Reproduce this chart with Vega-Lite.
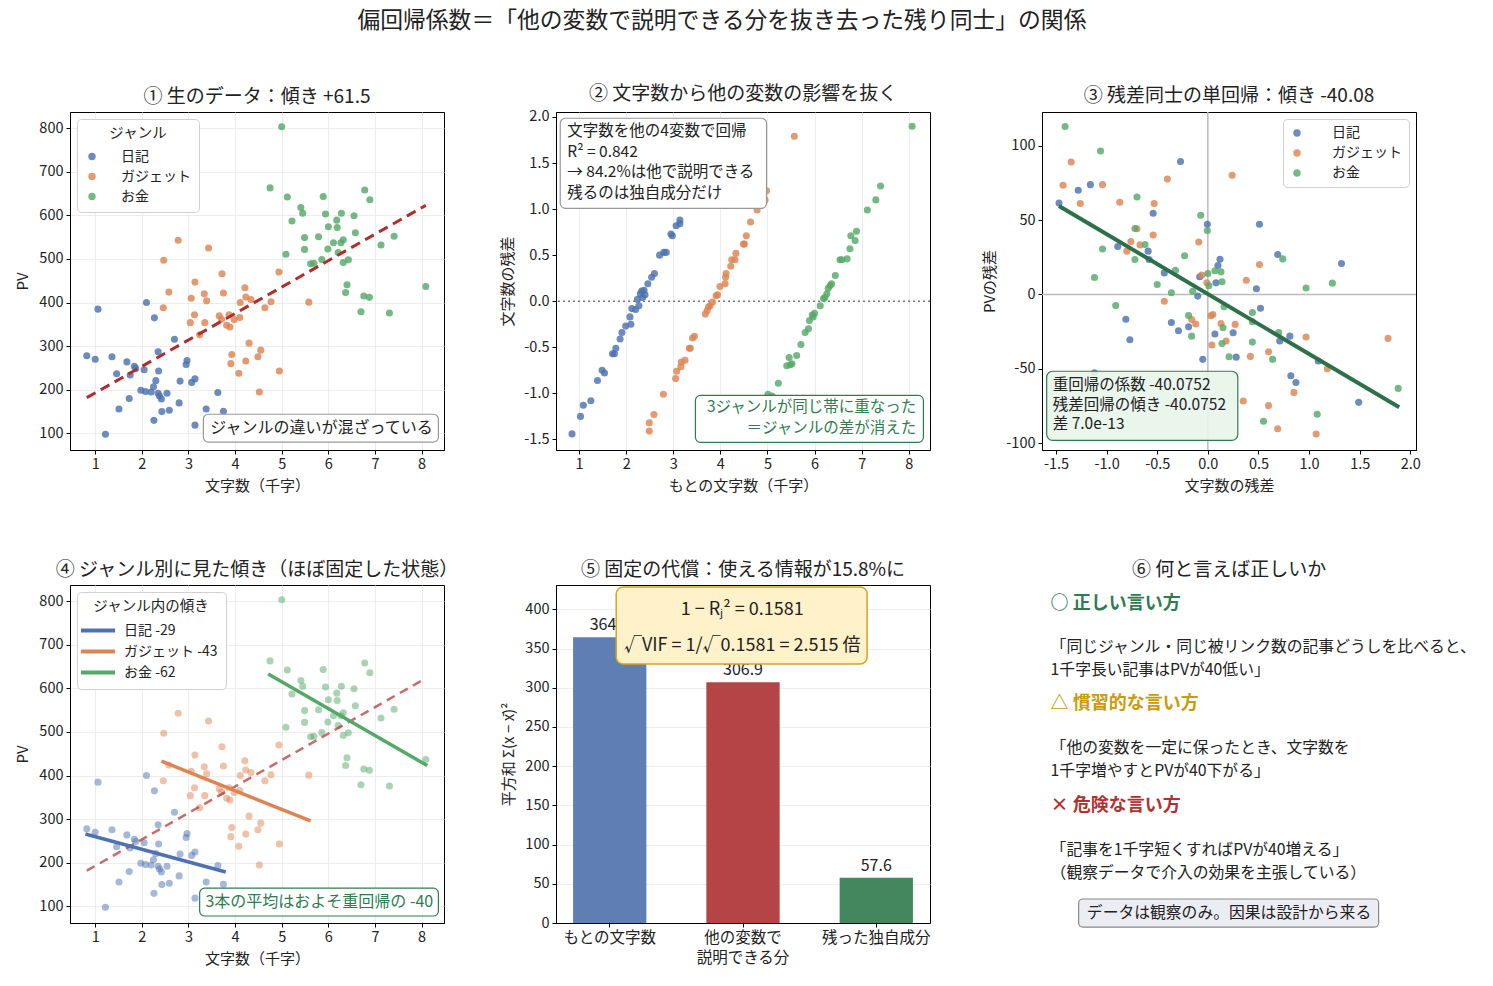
{
  "$schema": "https://vega.github.io/schema/vega-lite/v6.json",
  "padding": {"left": 15, "top": 9, "right": 5, "bottom": 5},
  "title": {"text": "偏回帰係数＝「他の変数で説明できる分を抜き去った残り同士」の関係", "fontSize": 22.8, "offset": 52, "anchor": "middle", "dx": -24},
  "datasets": {
    "raw": [
      {"genre": "日記", "chars": 0.82, "pv": 278}, {"genre": "日記", "chars": 1.0, "pv": 270}, {"genre": "日記", "chars": 1.06, "pv": 385},
      {"genre": "日記", "chars": 1.36, "pv": 276}, {"genre": "日記", "chars": 1.22, "pv": 98}, {"genre": "日記", "chars": 1.46, "pv": 237},
      {"genre": "日記", "chars": 1.51, "pv": 156}, {"genre": "日記", "chars": 1.68, "pv": 264}, {"genre": "日記", "chars": 1.73, "pv": 180},
      {"genre": "日記", "chars": 1.75, "pv": 234}, {"genre": "日記", "chars": 1.84, "pv": 254}, {"genre": "日記", "chars": 1.87, "pv": 249},
      {"genre": "日記", "chars": 2.05, "pv": 246}, {"genre": "日記", "chars": 2.10, "pv": 400}, {"genre": "日記", "chars": 1.98, "pv": 199},
      {"genre": "日記", "chars": 2.08, "pv": 196}, {"genre": "日記", "chars": 2.20, "pv": 195}, {"genre": "日記", "chars": 2.25, "pv": 207},
      {"genre": "日記", "chars": 2.30, "pv": 221}, {"genre": "日記", "chars": 2.27, "pv": 365}, {"genre": "日記", "chars": 2.35, "pv": 287},
      {"genre": "日記", "chars": 2.36, "pv": 243}, {"genre": "日記", "chars": 2.35, "pv": 192}, {"genre": "日記", "chars": 2.38, "pv": 186},
      {"genre": "日記", "chars": 2.42, "pv": 179}, {"genre": "日記", "chars": 2.43, "pv": 150}, {"genre": "日記", "chars": 2.54, "pv": 192},
      {"genre": "日記", "chars": 2.59, "pv": 153}, {"genre": "日記", "chars": 2.26, "pv": 130}, {"genre": "日記", "chars": 2.70, "pv": 316},
      {"genre": "日記", "chars": 2.80, "pv": 170}, {"genre": "日記", "chars": 2.82, "pv": 220}, {"genre": "日記", "chars": 2.97, "pv": 267},
      {"genre": "日記", "chars": 2.95, "pv": 258}, {"genre": "日記", "chars": 3.07, "pv": 217}, {"genre": "日記", "chars": 3.14, "pv": 225},
      {"genre": "日記", "chars": 3.14, "pv": 119}, {"genre": "日記", "chars": 3.38, "pv": 156}, {"genre": "日記", "chars": 3.63, "pv": 194},
      {"genre": "日記", "chars": 3.75, "pv": 151},
      {"genre": "ガジェット", "chars": 2.78, "pv": 543}, {"genre": "ガジェット", "chars": 3.43, "pv": 525}, {"genre": "ガジェット", "chars": 2.47, "pv": 497},
      {"genre": "ガジェット", "chars": 3.14, "pv": 447}, {"genre": "ガジェット", "chars": 3.72, "pv": 466}, {"genre": "ガジェット", "chars": 2.58, "pv": 424},
      {"genre": "ガジェット", "chars": 3.34, "pv": 420}, {"genre": "ガジェット", "chars": 3.39, "pv": 404}, {"genre": "ガジェット", "chars": 3.06, "pv": 410},
      {"genre": "ガジェット", "chars": 3.75, "pv": 422}, {"genre": "ガジェット", "chars": 4.21, "pv": 434}, {"genre": "ガジェット", "chars": 4.23, "pv": 413},
      {"genre": "ガジェット", "chars": 4.34, "pv": 407}, {"genre": "ガジェット", "chars": 4.11, "pv": 400}, {"genre": "ガジェット", "chars": 2.46, "pv": 388},
      {"genre": "ガジェット", "chars": 3.13, "pv": 372}, {"genre": "ガジェット", "chars": 3.04, "pv": 354}, {"genre": "ガジェット", "chars": 3.35, "pv": 354},
      {"genre": "ガジェット", "chars": 3.66, "pv": 370}, {"genre": "ガジェット", "chars": 3.71, "pv": 362}, {"genre": "ガジェット", "chars": 3.87, "pv": 372},
      {"genre": "ガジェット", "chars": 3.82, "pv": 348}, {"genre": "ガジェット", "chars": 3.89, "pv": 344}, {"genre": "ガジェット", "chars": 3.98, "pv": 361},
      {"genre": "ガジェット", "chars": 4.10, "pv": 366}, {"genre": "ガジェット", "chars": 4.64, "pv": 388}, {"genre": "ガジェット", "chars": 4.77, "pv": 402},
      {"genre": "ガジェット", "chars": 4.94, "pv": 470}, {"genre": "ガジェット", "chars": 5.58, "pv": 401}, {"genre": "ガジェット", "chars": 3.24, "pv": 326},
      {"genre": "ガジェット", "chars": 4.30, "pv": 307}, {"genre": "ガジェット", "chars": 4.55, "pv": 291}, {"genre": "ガジェット", "chars": 4.49, "pv": 276},
      {"genre": "ガジェット", "chars": 3.93, "pv": 281}, {"genre": "ガジェット", "chars": 3.91, "pv": 260}, {"genre": "ガジェット", "chars": 4.23, "pv": 266},
      {"genre": "ガジェット", "chars": 4.08, "pv": 238}, {"genre": "ガジェット", "chars": 4.95, "pv": 243}, {"genre": "ガジェット", "chars": 4.52, "pv": 195},
      {"genre": "お金", "chars": 5.0, "pv": 803}, {"genre": "お金", "chars": 4.75, "pv": 663}, {"genre": "お金", "chars": 5.12, "pv": 642},
      {"genre": "お金", "chars": 5.89, "pv": 643}, {"genre": "お金", "chars": 6.78, "pv": 658}, {"genre": "お金", "chars": 6.89, "pv": 636},
      {"genre": "お金", "chars": 5.41, "pv": 618}, {"genre": "お金", "chars": 5.45, "pv": 605}, {"genre": "お金", "chars": 5.22, "pv": 587},
      {"genre": "お金", "chars": 5.94, "pv": 603}, {"genre": "お金", "chars": 6.28, "pv": 605}, {"genre": "お金", "chars": 6.55, "pv": 599},
      {"genre": "お金", "chars": 6.18, "pv": 589}, {"genre": "お金", "chars": 6.00, "pv": 574}, {"genre": "お金", "chars": 6.19, "pv": 572},
      {"genre": "お金", "chars": 5.49, "pv": 549}, {"genre": "お金", "chars": 5.79, "pv": 551}, {"genre": "お金", "chars": 6.58, "pv": 560},
      {"genre": "お金", "chars": 7.41, "pv": 552}, {"genre": "お金", "chars": 6.32, "pv": 544}, {"genre": "お金", "chars": 6.11, "pv": 537},
      {"genre": "お金", "chars": 6.27, "pv": 537}, {"genre": "お金", "chars": 7.13, "pv": 532}, {"genre": "お金", "chars": 5.09, "pv": 511},
      {"genre": "お金", "chars": 5.49, "pv": 522}, {"genre": "お金", "chars": 5.99, "pv": 523}, {"genre": "お金", "chars": 6.21, "pv": 515},
      {"genre": "お金", "chars": 5.86, "pv": 499}, {"genre": "お金", "chars": 5.62, "pv": 489}, {"genre": "お金", "chars": 5.69, "pv": 490},
      {"genre": "お金", "chars": 6.32, "pv": 492}, {"genre": "お金", "chars": 6.43, "pv": 498}, {"genre": "お金", "chars": 6.40, "pv": 441},
      {"genre": "お金", "chars": 6.37, "pv": 423}, {"genre": "お金", "chars": 8.09, "pv": 437}, {"genre": "お金", "chars": 6.76, "pv": 415},
      {"genre": "お金", "chars": 6.88, "pv": 412}, {"genre": "お金", "chars": 6.70, "pv": 379}, {"genre": "お金", "chars": 7.31, "pv": 376}
    ],
    "residx": [
      {"genre": "日記", "chars": 0.85, "rx": -1.44}, {"genre": "日記", "chars": 1.03, "rx": -1.25}, {"genre": "日記", "chars": 1.09, "rx": -1.13},
      {"genre": "日記", "chars": 1.25, "rx": -1.08}, {"genre": "日記", "chars": 1.39, "rx": -0.86}, {"genre": "日記", "chars": 1.49, "rx": -0.75},
      {"genre": "日記", "chars": 1.54, "rx": -0.78}, {"genre": "日記", "chars": 1.71, "rx": -0.57}, {"genre": "日記", "chars": 1.78, "rx": -0.51},
      {"genre": "日記", "chars": 1.75, "rx": -0.57}, {"genre": "日記", "chars": 1.87, "rx": -0.41}, {"genre": "日記", "chars": 1.91, "rx": -0.34},
      {"genre": "日記", "chars": 1.99, "rx": -0.27}, {"genre": "日記", "chars": 2.08, "rx": -0.17}, {"genre": "日記", "chars": 2.10, "rx": -0.25},
      {"genre": "日記", "chars": 2.12, "rx": -0.08}, {"genre": "日記", "chars": 2.20, "rx": -0.09}, {"genre": "日記", "chars": 2.27, "rx": -0.05},
      {"genre": "日記", "chars": 2.30, "rx": 0.08}, {"genre": "日記", "chars": 2.33, "rx": 0.11}, {"genre": "日記", "chars": 2.38, "rx": 0.12},
      {"genre": "日記", "chars": 2.40, "rx": 0.07}, {"genre": "日記", "chars": 2.46, "rx": 0.19}, {"genre": "日記", "chars": 2.54, "rx": 0.26},
      {"genre": "日記", "chars": 2.60, "rx": 0.30}, {"genre": "日記", "chars": 2.71, "rx": 0.50}, {"genre": "日記", "chars": 2.80, "rx": 0.53},
      {"genre": "日記", "chars": 2.85, "rx": 0.53}, {"genre": "日記", "chars": 2.95, "rx": 0.73}, {"genre": "日記", "chars": 2.98, "rx": 0.71},
      {"genre": "日記", "chars": 3.06, "rx": 0.82}, {"genre": "日記", "chars": 3.14, "rx": 0.88}, {"genre": "日記", "chars": 3.14, "rx": 0.84},
      {"genre": "日記", "chars": 2.24, "rx": 0.02}, {"genre": "日記", "chars": 2.35, "rx": 0.04},
      {"genre": "ガジェット", "chars": 2.49, "rx": -1.41}, {"genre": "ガジェット", "chars": 2.49, "rx": -1.32}, {"genre": "ガジェット", "chars": 2.59, "rx": -1.23},
      {"genre": "ガジェット", "chars": 2.79, "rx": -1.01}, {"genre": "ガジェット", "chars": 3.05, "rx": -0.84}, {"genre": "ガジェット", "chars": 3.07, "rx": -0.76},
      {"genre": "ガジェット", "chars": 3.16, "rx": -0.71}, {"genre": "ガジェット", "chars": 3.17, "rx": -0.66}, {"genre": "ガジェット", "chars": 3.25, "rx": -0.64},
      {"genre": "ガジェット", "chars": 3.34, "rx": -0.51}, {"genre": "ガジェット", "chars": 3.36, "rx": -0.51}, {"genre": "ガジェット", "chars": 3.41, "rx": -0.40},
      {"genre": "ガジェット", "chars": 3.45, "rx": -0.38}, {"genre": "ガジェット", "chars": 3.68, "rx": -0.14}, {"genre": "ガジェット", "chars": 3.72, "rx": -0.10},
      {"genre": "ガジェット", "chars": 3.75, "rx": -0.06}, {"genre": "ガジェット", "chars": 3.78, "rx": -0.05}, {"genre": "ガジェット", "chars": 3.83, "rx": -0.01},
      {"genre": "ガジェット", "chars": 3.91, "rx": 0.06}, {"genre": "ガジェット", "chars": 3.94, "rx": 0.07}, {"genre": "ガジェット", "chars": 3.99, "rx": 0.16},
      {"genre": "ガジェット", "chars": 4.10, "rx": 0.19}, {"genre": "ガジェット", "chars": 4.11, "rx": 0.26}, {"genre": "ガジェット", "chars": 4.12, "rx": 0.30},
      {"genre": "ガジェット", "chars": 4.22, "rx": 0.38}, {"genre": "ガジェット", "chars": 4.24, "rx": 0.45}, {"genre": "ガジェット", "chars": 4.31, "rx": 0.45},
      {"genre": "ガジェット", "chars": 4.33, "rx": 0.52}, {"genre": "ガジェット", "chars": 4.49, "rx": 0.62}, {"genre": "ガジェット", "chars": 4.51, "rx": 0.62},
      {"genre": "ガジェット", "chars": 4.55, "rx": 0.71}, {"genre": "ガジェット", "chars": 4.64, "rx": 0.86}, {"genre": "ガジェット", "chars": 4.78, "rx": 0.99},
      {"genre": "ガジェット", "chars": 4.95, "rx": 1.10}, {"genre": "ガジェット", "chars": 4.98, "rx": 1.20}, {"genre": "ガジェット", "chars": 5.57, "rx": 1.79},
      {"genre": "お金", "chars": 5.01, "rx": -1.01}, {"genre": "お金", "chars": 5.10, "rx": -1.03}, {"genre": "お金", "chars": 5.23, "rx": -0.89},
      {"genre": "お金", "chars": 5.41, "rx": -0.70}, {"genre": "お金", "chars": 5.46, "rx": -0.61}, {"genre": "お金", "chars": 5.48, "rx": -0.69},
      {"genre": "お金", "chars": 5.52, "rx": -0.68}, {"genre": "お金", "chars": 5.62, "rx": -0.59}, {"genre": "お金", "chars": 5.71, "rx": -0.47},
      {"genre": "お金", "chars": 5.80, "rx": -0.34}, {"genre": "お金", "chars": 5.87, "rx": -0.30}, {"genre": "お金", "chars": 5.89, "rx": -0.21},
      {"genre": "お金", "chars": 5.95, "rx": -0.15}, {"genre": "お金", "chars": 6.00, "rx": -0.13}, {"genre": "お金", "chars": 5.97, "rx": -0.17},
      {"genre": "お金", "chars": 6.12, "rx": -0.05}, {"genre": "お金", "chars": 6.19, "rx": 0.03}, {"genre": "お金", "chars": 6.22, "rx": 0.04},
      {"genre": "お金", "chars": 6.26, "rx": 0.08}, {"genre": "お金", "chars": 6.29, "rx": 0.14}, {"genre": "お金", "chars": 6.33, "rx": 0.17},
      {"genre": "お金", "chars": 6.36, "rx": 0.19}, {"genre": "お金", "chars": 6.44, "rx": 0.28}, {"genre": "お金", "chars": 6.54, "rx": 0.45},
      {"genre": "お金", "chars": 6.58, "rx": 0.45}, {"genre": "お金", "chars": 6.69, "rx": 0.46}, {"genre": "お金", "chars": 6.75, "rx": 0.57},
      {"genre": "お金", "chars": 6.77, "rx": 0.71}, {"genre": "お金", "chars": 6.86, "rx": 0.66}, {"genre": "お金", "chars": 6.89, "rx": 0.76},
      {"genre": "お金", "chars": 7.12, "rx": 0.99}, {"genre": "お金", "chars": 7.30, "rx": 1.10}, {"genre": "お金", "chars": 7.40, "rx": 1.25},
      {"genre": "お金", "chars": 8.07, "rx": 1.90}
    ],
    "resid": [
      {"genre": "日記", "ex": -1.47, "ey": 61.5}, {"genre": "日記", "ex": -1.28, "ey": 70}, {"genre": "日記", "ex": -1.16, "ey": 73.8},
      {"genre": "日記", "ex": -0.27, "ey": 89.3}, {"genre": "日記", "ex": -0.54, "ey": 54.6}, {"genre": "日記", "ex": -0.89, "ey": 32.2},
      {"genre": "日記", "ex": -0.59, "ey": 29.1}, {"genre": "日記", "ex": -0.58, "ey": 23.5}, {"genre": "日記", "ex": -0.43, "ey": 14.5},
      {"genre": "日記", "ex": -0.005, "ey": 47.2}, {"genre": "日記", "ex": 0.12, "ey": 23.7}, {"genre": "日記", "ex": 0.10, "ey": 19.5},
      {"genre": "日記", "ex": 0.08, "ey": 7.8}, {"genre": "日記", "ex": -0.08, "ey": 11.9}, {"genre": "日記", "ex": -0.10, "ey": -1.1},
      {"genre": "日記", "ex": -0.36, "ey": -18.8}, {"genre": "日記", "ex": -0.29, "ey": -24.4}, {"genre": "日記", "ex": -0.19, "ey": -21.7},
      {"genre": "日記", "ex": -0.81, "ey": -16.6}, {"genre": "日記", "ex": -0.77, "ey": -30.4}, {"genre": "日記", "ex": 0.07, "ey": -26.6},
      {"genre": "日記", "ex": 0.25, "ey": -25.7}, {"genre": "日記", "ex": 0.28, "ey": -42.1}, {"genre": "日記", "ex": -0.05, "ey": -43.6},
      {"genre": "日記", "ex": 0.51, "ey": 47.2}, {"genre": "日記", "ex": 0.48, "ey": 3.8}, {"genre": "日記", "ex": 0.52, "ey": -9.2},
      {"genre": "日記", "ex": 0.69, "ey": 26.8}, {"genre": "日記", "ex": 0.71, "ey": -31.3}, {"genre": "日記", "ex": 0.81, "ey": -28},
      {"genre": "日記", "ex": 0.82, "ey": -54.6}, {"genre": "日記", "ex": 0.87, "ey": -59.1}, {"genre": "日記", "ex": 1.09, "ey": -44.7},
      {"genre": "日記", "ex": 1.32, "ey": 20.8}, {"genre": "日記", "ex": 1.49, "ey": -72.5}, {"genre": "日記", "ex": -1.12, "ey": -52.6},
      {"genre": "ガジェット", "ex": -1.43, "ey": 73.4}, {"genre": "ガジェット", "ex": -1.35, "ey": 89.0}, {"genre": "ガジェット", "ex": -1.26, "ey": 61.1},
      {"genre": "ガジェット", "ex": -1.04, "ey": 73.8}, {"genre": "ガジェット", "ex": -0.87, "ey": 62.0}, {"genre": "ガジェット", "ex": -0.76, "ey": 35.6},
      {"genre": "ガジェット", "ex": -0.67, "ey": 33.3}, {"genre": "ガジェット", "ex": -0.80, "ey": 29.1}, {"genre": "ガジェット", "ex": -0.70, "ey": 44.1},
      {"genre": "ガジェット", "ex": -0.54, "ey": 40.0}, {"genre": "ガジェット", "ex": -0.53, "ey": 61.1}, {"genre": "ガジェット", "ex": -0.40, "ey": 77.6},
      {"genre": "ガジェット", "ex": -0.09, "ey": 35.3}, {"genre": "ガジェット", "ex": -0.06, "ey": 13.0}, {"genre": "ガジェット", "ex": -0.01, "ey": 7.8},
      {"genre": "ガジェット", "ex": -0.43, "ey": -4.5}, {"genre": "ガジェット", "ex": -0.16, "ey": -16.8}, {"genre": "ガジェット", "ex": -0.12, "ey": -19.9},
      {"genre": "ガジェット", "ex": 0.03, "ey": -14.3}, {"genre": "ガジェット", "ex": 0.05, "ey": -13.4}, {"genre": "ガジェット", "ex": 0.13, "ey": -19.5},
      {"genre": "ガジェット", "ex": 0.18, "ey": -31.3}, {"genre": "ガジェット", "ex": 0.04, "ey": -34.0}, {"genre": "ガジェット", "ex": 0.27, "ey": -20.1},
      {"genre": "ガジェット", "ex": 0.24, "ey": 80.1}, {"genre": "ガジェット", "ex": 0.51, "ey": 20.1}, {"genre": "ガジェット", "ex": 0.38, "ey": 9.6},
      {"genre": "ガジェット", "ex": 0.42, "ey": -41.6}, {"genre": "ガジェット", "ex": 0.60, "ey": -38.5}, {"genre": "ガジェット", "ex": 0.60, "ey": -74.7},
      {"genre": "ガジェット", "ex": 0.69, "ey": -90.2}, {"genre": "ガジェット", "ex": 0.85, "ey": -65.8}, {"genre": "ガジェット", "ex": 0.97, "ey": -28.6},
      {"genre": "ガジェット", "ex": 1.07, "ey": -93.7}, {"genre": "ガジェット", "ex": 1.18, "ey": -49.9}, {"genre": "ガジェット", "ex": 1.78, "ey": -29.5},
      {"genre": "ガジェット", "ex": 0.35, "ey": -71.6},
      {"genre": "お金", "ex": -1.41, "ey": 112.8}, {"genre": "お金", "ex": -1.06, "ey": 96.4}, {"genre": "お金", "ex": -0.70, "ey": 65.5},
      {"genre": "お金", "ex": -0.72, "ey": 44.3}, {"genre": "お金", "ex": -1.04, "ey": 30.6}, {"genre": "お金", "ex": -0.62, "ey": 33.6},
      {"genre": "お金", "ex": -0.72, "ey": 23.5}, {"genre": "お金", "ex": -1.12, "ey": 11.4}, {"genre": "お金", "ex": -0.50, "ey": 6.7},
      {"genre": "お金", "ex": -0.36, "ey": 1.1}, {"genre": "お金", "ex": -0.32, "ey": 16.3}, {"genre": "お金", "ex": -0.23, "ey": 26.0},
      {"genre": "お金", "ex": -0.07, "ey": 53.2}, {"genre": "お金", "ex": -0.005, "ey": 43.0}, {"genre": "お金", "ex": 0.00, "ey": 14.1},
      {"genre": "お金", "ex": 0.07, "ey": 15.9}, {"genre": "お金", "ex": 0.13, "ey": 15.2}, {"genre": "お金", "ex": 0.14, "ey": 8.5},
      {"genre": "お金", "ex": 0.01, "ey": 5.8}, {"genre": "お金", "ex": -0.15, "ey": 2.2}, {"genre": "お金", "ex": -0.19, "ey": -14.1},
      {"genre": "お金", "ex": -0.16, "ey": -28}, {"genre": "お金", "ex": 0.16, "ey": -8.3}, {"genre": "お金", "ex": 0.15, "ey": -22.4},
      {"genre": "お金", "ex": 0.14, "ey": -32.9}, {"genre": "お金", "ex": 0.21, "ey": -41.8}, {"genre": "お金", "ex": 0.44, "ey": -12.1},
      {"genre": "お金", "ex": 0.44, "ey": -18.3}, {"genre": "お金", "ex": 0.44, "ey": -32.0}, {"genre": "お金", "ex": 0.64, "ey": -43.6},
      {"genre": "お金", "ex": 0.70, "ey": -25.5}, {"genre": "お金", "ex": 0.74, "ey": 23.9}, {"genre": "お金", "ex": 0.97, "ey": 4.3},
      {"genre": "お金", "ex": 1.23, "ey": 7.6}, {"genre": "お金", "ex": 1.08, "ey": -80.5}, {"genre": "お金", "ex": 0.55, "ey": -85.2},
      {"genre": "お金", "ex": 1.88, "ey": -63.1}, {"genre": "お金", "ex": -0.91, "ey": -7.4}
    ],
    "fit_raw": [{"x": 0.82, "y": 182}, {"x": 8.09, "y": 623}],
    "fit_resid": [{"x": -1.47, "y": 59.5}, {"x": 1.89, "y": -75.8}],
    "within": [
      {"lab": "日記 -29", "x": 0.79, "y": 266}, {"lab": "日記 -29", "x": 3.80, "y": 179},
      {"lab": "ガジェット -43", "x": 2.42, "y": 433}, {"lab": "ガジェット -43", "x": 5.62, "y": 296},
      {"lab": "お金 -62", "x": 4.71, "y": 633}, {"lab": "お金 -62", "x": 8.12, "y": 423}
    ],
    "ss": [
      {"cat": "もとの文字数", "ss": 364.5},
      {"cat": "他の変数で|説明できる分", "ss": 306.9},
      {"cat": "残った独自成分", "ss": 57.6}
    ]
  },
  "columns": 3,
  "spacing": {"row": 135, "column": 112},
  "bounds": "flush",
  "resolve": {
    "scale": {"color": "independent", "x": "independent", "y": "independent"},
    "legend": {"color": "independent"}
  },
  "concat": [
    {
      "width": 374, "height": 338,
      "title": "① 生のデータ：傾き +61.5",
      "layer": [
        {
          "data": {"name": "raw"},
          "mark": {"type": "circle", "size": 50, "opacity": 0.82},
          "encoding": {
            "x": {"field": "chars", "type": "quantitative", "scale": {"domain": [0.46, 8.48], "nice": false, "zero": false}, "axis": {"values": [1, 2, 3, 4, 5, 6, 7, 8], "title": "文字数（千字）"}},
            "y": {"field": "pv", "type": "quantitative", "scale": {"domain": [62, 837], "nice": false, "zero": false}, "axis": {"values": [100, 200, 300, 400, 500, 600, 700, 800], "title": "PV"}},
            "color": {"field": "genre", "type": "nominal", "scale": {"domain": ["日記", "ガジェット", "お金"], "range": ["#4c72b0", "#dd8452", "#55a868"]},
              "legend": {"title": "ジャンル", "orient": "top-left", "titleAnchor": "middle", "titlePadding": 8, "labelOffset": 22, "symbolSize": 55, "padding": 8}}
          }
        },
        {
          "data": {"name": "fit_raw"},
          "mark": {"type": "line", "color": "#b22c2c", "strokeWidth": 3, "strokeDash": [10, 6]},
          "encoding": {"x": {"field": "x", "type": "quantitative"}, "y": {"field": "y", "type": "quantitative"}}
        },
        {
          "data": {"values": [{}]},
          "mark": {"type": "rect", "fill": "white", "stroke": "#999999", "strokeWidth": 1.2, "cornerRadius": 5},
          "encoding": {"x": {"datum": 3.32, "type": "quantitative"}, "x2": {"datum": 8.36}, "y": {"datum": 144, "type": "quantitative"}, "y2": {"datum": 80}}
        },
        {
          "data": {"values": [{}]},
          "mark": {"type": "text", "text": "ジャンルの違いが混ざっている", "align": "left", "baseline": "middle", "fontSize": 16, "color": "#222"},
          "encoding": {"x": {"datum": 3.47, "type": "quantitative"}, "y": {"datum": 112, "type": "quantitative"}}
        }
      ]
    },
    {
      "width": 374, "height": 338,
      "title": "② 文字数から他の変数の影響を抜く",
      "layer": [
        {
          "data": {"values": [{}]},
          "mark": {"type": "rule", "color": "#777777", "strokeWidth": 1.5, "strokeDash": [2, 3]},
          "encoding": {"y": {"datum": 0, "type": "quantitative"}}
        },
        {
          "data": {"name": "residx"},
          "mark": {"type": "circle", "size": 50, "opacity": 0.82},
          "encoding": {
            "x": {"field": "chars", "type": "quantitative", "scale": {"domain": [0.51, 8.45], "nice": false, "zero": false}, "axis": {"values": [1, 2, 3, 4, 5, 6, 7, 8], "title": "もとの文字数（千字）"}},
            "y": {"field": "rx", "type": "quantitative", "scale": {"domain": [-1.615, 2.054], "nice": false, "zero": false}, "axis": {"values": [-1.5, -1, -0.5, 0, 0.5, 1, 1.5, 2], "format": ".1f", "labelExpr": "replace(datum.label, '−', '-')", "title": "文字数の残差"}},
            "color": {"field": "genre", "type": "nominal", "scale": {"domain": ["日記", "ガジェット", "お金"], "range": ["#4c72b0", "#dd8452", "#55a868"]}, "legend": null}
          }
        },
        {
          "data": {"values": [{}]},
          "mark": {"type": "rect", "fill": "white", "stroke": "#999999", "strokeWidth": 1.2, "cornerRadius": 5},
          "encoding": {"x": {"datum": 0.6, "type": "quantitative"}, "x2": {"datum": 4.98}, "y": {"datum": 1.986, "type": "quantitative"}, "y2": {"datum": 1.008}}
        },
        {
          "data": {"values": [{}]},
          "mark": {"type": "text", "text": ["文字数を他の4変数で回帰", "R² = 0.842", "→ 84.2%は他で説明できる", "残るのは独自成分だけ"], "align": "left", "baseline": "middle", "fontSize": 15.5, "lineHeight": 20.5, "color": "#222"},
          "encoding": {"x": {"datum": 0.75, "type": "quantitative"}, "y": {"datum": 1.844, "type": "quantitative"}}
        },
        {
          "data": {"values": [{}]},
          "mark": {"type": "rect", "fill": "white", "stroke": "#2e7d4f", "strokeWidth": 1.2, "cornerRadius": 5},
          "encoding": {"x": {"datum": 3.47, "type": "quantitative"}, "x2": {"datum": 8.31}, "y": {"datum": -1.022, "type": "quantitative"}, "y2": {"datum": -1.532}}
        },
        {
          "data": {"values": [{}]},
          "mark": {"type": "text", "text": ["3ジャンルが同じ帯に重なった", "＝ジャンルの差が消えた"], "align": "right", "baseline": "middle", "fontSize": 15.5, "lineHeight": 21, "color": "#2e7d4f"},
          "encoding": {"x": {"datum": 8.16, "type": "quantitative"}, "y": {"datum": -1.152, "type": "quantitative"}}
        }
      ]
    },
    {
      "width": 374, "height": 338,
      "title": "③ 残差同士の単回帰：傾き -40.08",
      "layer": [
        {
          "data": {"values": [{}]},
          "mark": {"type": "rule", "color": "#bbbbbb", "strokeWidth": 1.5},
          "encoding": {"y": {"datum": 0, "type": "quantitative"}}
        },
        {
          "data": {"values": [{}]},
          "mark": {"type": "rule", "color": "#bbbbbb", "strokeWidth": 1.5},
          "encoding": {"x": {"datum": 0, "type": "quantitative"}}
        },
        {
          "data": {"name": "resid"},
          "mark": {"type": "circle", "size": 50, "opacity": 0.82},
          "encoding": {
            "x": {"field": "ex", "type": "quantitative", "scale": {"domain": [-1.638, 2.056], "nice": false, "zero": false}, "axis": {"values": [-1.5, -1, -0.5, 0, 0.5, 1, 1.5, 2], "format": ".1f", "labelExpr": "replace(datum.label, '−', '-')", "title": "文字数の残差"}},
            "y": {"field": "ey", "type": "quantitative", "scale": {"domain": [-104.5, 122.6], "nice": false, "zero": false}, "axis": {"values": [-100, -50, 0, 50, 100], "labelExpr": "replace(datum.label, '−', '-')", "title": "PVの残差"}},
            "color": {"field": "genre", "type": "nominal", "scale": {"domain": ["日記", "ガジェット", "お金"], "range": ["#4c72b0", "#dd8452", "#55a868"]},
              "legend": {"title": null, "orient": "top-right", "labelOffset": 28, "symbolSize": 55, "padding": 7}}
          }
        },
        {
          "data": {"name": "fit_resid"},
          "mark": {"type": "line", "color": "#2d7049", "strokeWidth": 4},
          "encoding": {"x": {"field": "x", "type": "quantitative"}, "y": {"field": "y", "type": "quantitative"}}
        },
        {
          "data": {"values": [{}]},
          "mark": {"type": "rect", "fill": "#e8f4ea", "fillOpacity": 0.92, "stroke": "#2e7d4f", "strokeWidth": 1.2, "cornerRadius": 6},
          "encoding": {"x": {"datum": -1.592, "type": "quantitative"}, "x2": {"datum": 0.296}, "y": {"datum": -51.6, "type": "quantitative"}, "y2": {"datum": -98}}
        },
        {
          "data": {"values": [{}]},
          "mark": {"type": "text", "text": ["重回帰の係数 -40.0752", "残差回帰の傾き -40.0752", "差 7.0e-13"], "align": "left", "baseline": "middle", "fontSize": 15.5, "lineHeight": 19.5, "color": "#222"},
          "encoding": {"x": {"datum": -1.532, "type": "quantitative"}, "y": {"datum": -61.1, "type": "quantitative"}}
        }
      ]
    },
    {
      "width": 374, "height": 338,
      "title": "④ ジャンル別に見た傾き（ほぼ固定した状態）",
      "resolve": {"scale": {"color": "independent"}},
      "layer": [
        {
          "data": {"name": "raw"},
          "mark": {"type": "circle", "size": 50, "opacity": 0.5},
          "encoding": {
            "x": {"field": "chars", "type": "quantitative", "scale": {"domain": [0.46, 8.48], "nice": false, "zero": false}, "axis": {"values": [1, 2, 3, 4, 5, 6, 7, 8], "title": "文字数（千字）"}},
            "y": {"field": "pv", "type": "quantitative", "scale": {"domain": [62, 837], "nice": false, "zero": false}, "axis": {"values": [100, 200, 300, 400, 500, 600, 700, 800], "title": "PV"}},
            "color": {"field": "genre", "type": "nominal", "scale": {"domain": ["日記", "ガジェット", "お金"], "range": ["#4c72b0", "#dd8452", "#55a868"]}, "legend": null}
          }
        },
        {
          "data": {"name": "fit_raw"},
          "mark": {"type": "line", "color": "#b22c2c", "opacity": 0.7, "strokeWidth": 2.5, "strokeDash": [9, 6]},
          "encoding": {"x": {"field": "x", "type": "quantitative"}, "y": {"field": "y", "type": "quantitative"}}
        },
        {
          "data": {"name": "within"},
          "mark": {"type": "line", "strokeWidth": 3.5},
          "encoding": {
            "x": {"field": "x", "type": "quantitative"},
            "y": {"field": "y", "type": "quantitative"},
            "color": {"field": "lab", "type": "nominal", "scale": {"domain": ["日記 -29", "ガジェット -43", "お金 -62"], "range": ["#4c72b0", "#dd8452", "#55a868"]},
              "legend": {"title": "ジャンル内の傾き", "orient": "top-left", "titleAnchor": "middle", "titlePadding": 4, "symbolType": "M-1.75,0H1.75", "symbolSize": 380, "symbolStrokeWidth": 4, "symbolOffset": 1, "labelOffset": 14, "rowPadding": 1, "padding": 8}}
          }
        },
        {
          "data": {"values": [{}]},
          "mark": {"type": "rect", "fill": "white", "stroke": "#2e7d4f", "strokeWidth": 1.2, "cornerRadius": 5},
          "encoding": {"x": {"datum": 3.24, "type": "quantitative"}, "x2": {"datum": 8.36}, "y": {"datum": 142, "type": "quantitative"}, "y2": {"datum": 78}}
        },
        {
          "data": {"values": [{}]},
          "mark": {"type": "text", "text": "3本の平均はおよそ重回帰の -40", "align": "left", "baseline": "middle", "fontSize": 16, "color": "#2e7d4f"},
          "encoding": {"x": {"datum": 3.365, "type": "quantitative"}, "y": {"datum": 110, "type": "quantitative"}}
        }
      ]
    },
    {
      "width": 374, "height": 338,
      "title": "⑤ 固定の代償：使える情報が15.8%に",
      "resolve": {"scale": {"x": "independent"}},
      "layer": [
        {
          "data": {"name": "ss"},
          "encoding": {
            "x": {"field": "cat", "type": "nominal", "sort": null, "scale": {"paddingInner": 0.45, "paddingOuter": 0.128},
              "axis": {"title": null, "labelAngle": 0, "labelExpr": "split(datum.label, '|')", "labelLineHeight": 20, "bandPosition": 0.5, "labelFontSize": 15.5}},
            "y": {"field": "ss", "type": "quantitative", "scale": {"domain": [0, 431], "nice": false}, "axis": {"values": [0, 50, 100, 150, 200, 250, 300, 350, 400], "title": "平方和 Σ(x − x̄)²"}}
          },
          "layer": [
            {
              "mark": {"type": "bar"},
              "encoding": {"color": {"field": "cat", "type": "nominal", "sort": null, "scale": {"range": ["#5f7fb4", "#b54446", "#44875f"]}, "legend": null}}
            },
            {
              "mark": {"type": "text", "baseline": "bottom", "dy": -4, "fontSize": 16, "color": "#222"},
              "encoding": {"text": {"field": "ss", "type": "quantitative", "format": ".1f"}}
            }
          ]
        },
        {
          "data": {"values": [{}]},
          "mark": {"type": "rect", "fill": "#fff1c9", "stroke": "#d4a520", "strokeWidth": 1.5, "cornerRadius": 7},
          "encoding": {"x": {"datum": 0.161, "type": "quantitative", "scale": {"domain": [0, 1]}, "axis": null}, "x2": {"datum": 0.832}, "y": {"datum": 428.4, "type": "quantitative"}, "y2": {"datum": 330.3}}
        },
        {
          "data": {"values": [{}]},
          "mark": {"type": "text", "text": "1 − Rⱼ² = 0.1581", "align": "center", "baseline": "middle", "fontSize": 18, "color": "#222"},
          "encoding": {"x": {"datum": 0.498, "type": "quantitative", "scale": {"domain": [0, 1]}, "axis": null}, "y": {"datum": 399, "type": "quantitative"}}
        },
        {
          "data": {"values": [{}]},
          "mark": {"type": "text", "text": "√VIF = 1/√0.1581 = 2.515 倍", "align": "center", "baseline": "middle", "fontSize": 18, "color": "#222"},
          "encoding": {"x": {"datum": 0.498, "type": "quantitative", "scale": {"domain": [0, 1]}, "axis": null}, "y": {"datum": 353, "type": "quantitative"}}
        }
      ]
    },
    {
      "width": 374, "height": 338,
      "title": "⑥ 何と言えば正しいか",
      "view": {"stroke": null},
      "data": {"values": [{}]},
      "encoding": {
        "x": {"datum": 0.023, "type": "quantitative", "scale": {"domain": [0, 1]}, "axis": null}
      },
      "layer": [
        {
          "mark": {"type": "text", "text": "○ 正しい言い方", "align": "left", "baseline": "middle", "fontSize": 18, "fontWeight": "bold", "color": "#2e7d4f"},
          "encoding": {"y": {"datum": 0.944, "type": "quantitative", "scale": {"domain": [0, 1]}, "axis": null}}
        },
        {
          "mark": {"type": "text", "text": ["「同じジャンル・同じ被リンク数の記事どうしを比べると、", "1千字長い記事はPVが40低い」"], "align": "left", "baseline": "middle", "fontSize": 15.8, "lineHeight": 23, "color": "#222"},
          "encoding": {"y": {"datum": 0.817, "type": "quantitative"}}
        },
        {
          "mark": {"type": "text", "text": "△ 慣習的な言い方", "align": "left", "baseline": "middle", "fontSize": 18, "fontWeight": "bold", "color": "#cc9a06"},
          "encoding": {"y": {"datum": 0.648, "type": "quantitative"}}
        },
        {
          "mark": {"type": "text", "text": ["「他の変数を一定に保ったとき、文字数を", "1千字増やすとPVが40下がる」"], "align": "left", "baseline": "middle", "fontSize": 15.8, "lineHeight": 23, "color": "#222"},
          "encoding": {"y": {"datum": 0.518, "type": "quantitative"}}
        },
        {
          "mark": {"type": "text", "text": "× 危険な言い方", "align": "left", "baseline": "middle", "fontSize": 18, "fontWeight": "bold", "color": "#b33030"},
          "encoding": {"y": {"datum": 0.346, "type": "quantitative"}}
        },
        {
          "mark": {"type": "text", "text": ["「記事を1千字短くすればPVが40増える」", "（観察データで介入の効果を主張している）"], "align": "left", "baseline": "middle", "fontSize": 15.8, "lineHeight": 23, "color": "#222"},
          "encoding": {"y": {"datum": 0.216, "type": "quantitative"}}
        },
        {
          "mark": {"type": "rect", "fill": "#ececf3", "stroke": "#888888", "strokeWidth": 1.2, "cornerRadius": 4},
          "encoding": {"x": {"datum": 0.098, "type": "quantitative"}, "x2": {"datum": 0.9}, "y": {"datum": 0.071, "type": "quantitative"}, "y2": {"datum": -0.012}}
        },
        {
          "mark": {"type": "text", "text": "データは観察のみ。因果は設計から来る", "align": "center", "baseline": "middle", "fontSize": 15.8, "color": "#222"},
          "encoding": {"x": {"datum": 0.5, "type": "quantitative"}, "y": {"datum": 0.03, "type": "quantitative"}}
        }
      ]
    }
  ],
  "config": {
    "font": "Noto Sans CJK JP",
    "background": "white",
    "view": {"stroke": "black", "strokeWidth": 1},
    "title": {"fontSize": 19, "fontWeight": "normal", "offset": 5, "color": "#222"},
    "axis": {
      "labelFontSize": 14.5, "titleFontSize": 15, "titleFontWeight": "normal",
      "labelColor": "#222", "titleColor": "#222",
      "gridColor": "#e8e8e8", "gridWidth": 0.8,
      "domainColor": "black", "tickColor": "black", "tickSize": 4,
      "labelPadding": 3, "titlePadding": 8
    },
    "legend": {
      "labelFontSize": 14, "titleFontSize": 14.5, "titleFontWeight": "normal",
      "labelColor": "#222", "titleColor": "#222",
      "fillColor": "white", "strokeColor": "#d0d0d0", "cornerRadius": 4,
      "padding": 9, "offset": 7, "rowPadding": 6
    }
  }
}
